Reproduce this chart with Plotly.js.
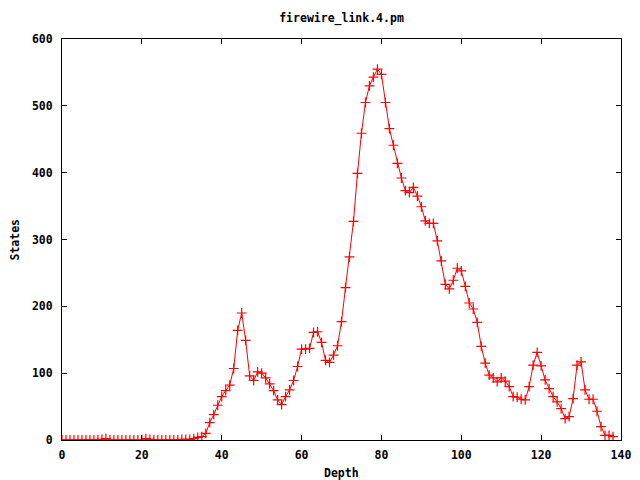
<!DOCTYPE html>
<html>
<head>
<meta charset="utf-8">
<script src="https://cdn.plot.ly/plotly-3.0.1.min.js"></script>
<style>html,body{margin:0;padding:0;background:#fff;}#chart{width:640px;height:480px;}</style>
</head>
<body>
<div id="chart"></div>
<script>
const chartTitle = "firewire_link.4.pm";
const xLabel = "Depth";
const yLabel = "States";
const depth = [];
for (let i = 0; i <= 138; i++) depth.push(i);
const states = [
  0,0,0,0,0,0,0,0,0,0,
  1,2,0,0,0,0,0,0,0,0,
  0,2,1,0,0,0,0,0,0,0,
  1,1,1,2,4,5,10,26,38,52,
  65,74,82,107,164,190,149,96,89,102,
  100,93,84,74,60,53,65,75,89,110,
  136,136,137,161,162,146,119,116,127,141,
  177,228,274,327,399,459,505,530,543,555,
  547,505,466,441,414,392,373,370,378,365,
  349,328,324,324,298,268,233,226,239,257,
  253,230,205,196,176,140,115,97,93,87,
  93,88,80,65,64,61,60,80,112,131,
  111,90,77,65,57,47,32,35,62,112,
  117,75,61,61,43,20,7,7,5
];
const xTicks = [0,20,40,60,80,100,120,140];
const yTicks = [0,100,200,300,400,500,600];

const font = {family: "DejaVu Sans Mono, monospace", size: 11.5, color: "#000", weight: "bold"};

const trace = {
  x: depth, y: states, type: "scatter", mode: "lines+markers",
  line: {color: "#ff0000", width: 1},
  marker: {symbol: "cross-thin", size: 7, line: {color: "#ff0000", width: 1.2}, color: "#ff0000"},
  hoverinfo: "skip"
};

const axisBase = {
  showgrid: false, zeroline: false, showline: true, linecolor: "#000", linewidth: 1,
  mirror: "ticks", ticks: "inside", ticklen: 5, tickcolor: "#000", tickwidth: 1,
  tickfont: font, fixedrange: true
};

const layout = {
  width: 640, height: 480,
  margin: {l: 62, r: 19, t: 39, b: 40, pad: 0},
  paper_bgcolor: "#fff", plot_bgcolor: "#fff",
  showlegend: false,
  title: {text: chartTitle, font: font, x: 0.5, xref: "paper", y: 1 - 18/480, yref: "container", yanchor: "middle"},
  xaxis: Object.assign({}, axisBase, {range: [0, 140], tickvals: xTicks, ticktext: xTicks.map(String), ticklabelstandoff: 4}),
  yaxis: Object.assign({}, axisBase, {range: [0, 600], tickvals: yTicks, ticktext: yTicks.map(String), ticklabelstandoff: 6}),
  annotations: [
    {text: xLabel, xref: "paper", yref: "paper", x: 0.5, y: 0, yshift: -33, showarrow: false, font: font, yanchor: "middle"},
    {text: yLabel, xref: "paper", yref: "paper", x: 0, y: 0.5, xshift: -48, showarrow: false, font: font, textangle: -90, xanchor: "center"}
  ]
};

Plotly.newPlot("chart", [trace], layout, {displayModeBar: false, staticPlot: true});
</script>
</body>
</html>
